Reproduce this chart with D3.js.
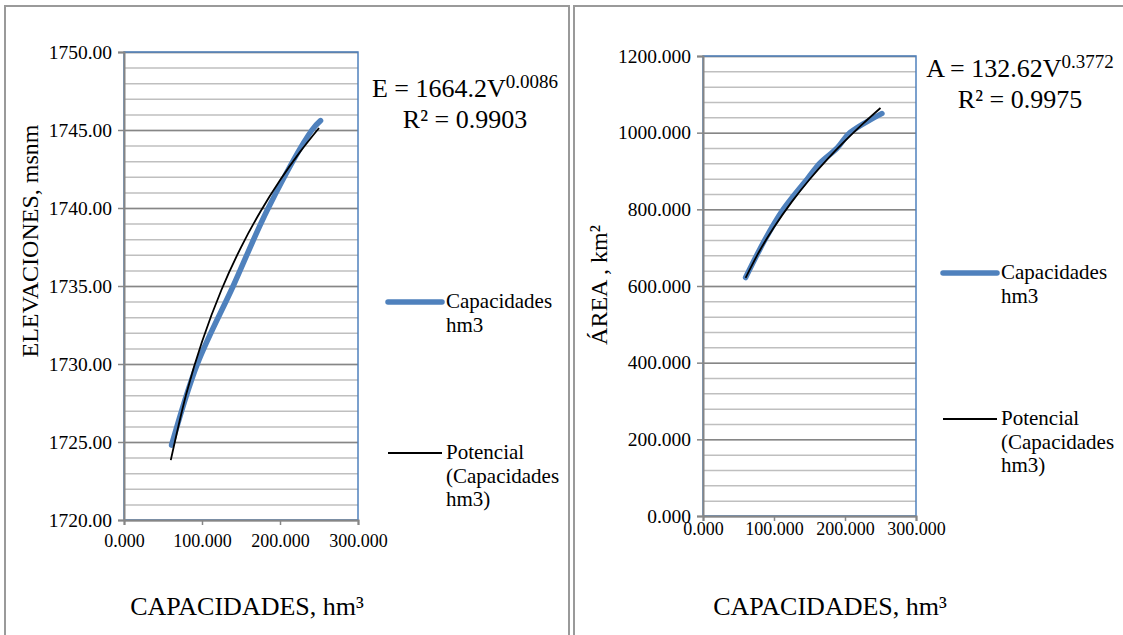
<!DOCTYPE html>
<html>
<head>
<meta charset="utf-8">
<script src="https://cdn.jsdelivr.net/npm/d3@7"></script>
<style>
  body { margin: 0; background: #fff; }
  text { font-family: "Liberation Serif", "Times New Roman", "DejaVu Serif", serif; fill: #000; }
</style>
</head>
<body>
<svg id="chart" width="1123" height="635"></svg>
<script>
// Curvas de capacidad: elevacion y area contra volumen almacenado

const elevCapacity = [61, 94, 140, 185, 241, 252];
const elevations = [1724.8, 1730, 1735, 1740, 1745, 1745.6];

const areaCapacity = [60, 87, 113, 148, 165, 189, 207, 252];
const areas = [622, 720, 800, 882, 921, 960, 1000, 1050];

// black power trend lines
const trendCapacity = [60, 80, 100, 125, 150, 175, 200, 225, 250];
const trendElevations = [1723.84, 1728.11, 1731.43, 1734.76, 1737.48, 1739.78, 1741.78, 1743.55, 1745.13];
const trendAreas = [621.3, 692.6, 753.4, 819.5, 877.9, 930.4, 978.5, 1022.9, 1064.4];

const xTicks = [0, 100, 200, 300];
const elevTicks = [1720, 1725, 1730, 1735, 1740, 1745, 1750];
const areaTicks = [0, 200, 400, 600, 800, 1000, 1200];

const seriesLabel = ["Capacidades", "hm3"];
const trendLabel = ["Potencial", "(Capacidades", "hm3)"];

const BLUE = "#4F81BD";
const AXIS = "#868686";
const MINOR = "#BFBFBF";
const SERIF = '"Liberation Serif", "Times New Roman", "DejaVu Serif", serif';

const svg = d3.select("#chart");

svg.append("rect").attr("width", 1123).attr("height", 635).attr("fill", "#fff");

// panel frames (bottom and right of the second one run off the page)
svg.append("rect")
  .attr("x", 5).attr("y", 6).attr("width", 564).attr("height", 700)
  .attr("fill", "none").attr("stroke", "#9a9a9a").attr("stroke-width", 2);
svg.append("rect")
  .attr("x", 574).attr("y", 6).attr("width", 700).attr("height", 700)
  .attr("fill", "none").attr("stroke", "#9a9a9a").attr("stroke-width", 2);

function drawPanel(opt) {

  const g = svg.append("g").style("font-family", SERIF);

  const x = d3.scaleLinear().domain([0, 300]).range([opt.left, opt.right]);
  const y = d3.scaleLinear().domain(opt.yDomain).range([opt.bottom, opt.top]);
  const w = opt.right - opt.left;

  // minor grid
  g.append("g")
    .attr("transform", `translate(${opt.left},0)`)
    .call(d3.axisLeft(y).tickValues(d3.range(opt.yDomain[0], opt.yDomain[1] + 0.001, opt.minorStep))
      .tickSize(-w).tickFormat(""))
    .call(s => s.select(".domain").remove())
    .call(s => s.selectAll("line").attr("stroke", MINOR).attr("stroke-width", 1.5));

  // major grid
  g.append("g")
    .attr("transform", `translate(${opt.left},0)`)
    .call(d3.axisLeft(y).tickValues(opt.yTicks).tickSize(-w).tickFormat(""))
    .call(s => s.select(".domain").remove())
    .call(s => s.selectAll("line").attr("stroke", AXIS).attr("stroke-width", 1.5));

  // plot border, top and right in blue
  g.append("rect")
    .attr("x", opt.left).attr("y", opt.top)
    .attr("width", w).attr("height", opt.bottom - opt.top)
    .attr("fill", "none").attr("stroke", BLUE).attr("stroke-width", 1.5);

  // y axis
  const yAxis = g.append("g")
    .attr("transform", `translate(${opt.left},0)`)
    .call(d3.axisLeft(y).tickValues(opt.yTicks).tickSize(6).tickPadding(opt.yPad)
      .tickFormat(d3.format(opt.yFormat)));
  yAxis.attr("font-family", null).attr("font-size", null);
  yAxis.select(".domain").attr("stroke", AXIS).attr("stroke-width", 2);
  yAxis.selectAll("line").attr("stroke", AXIS).attr("stroke-width", 1.5);
  yAxis.selectAll("text").style("font-family", SERIF).attr("font-size", 19.5).attr("fill", "#000");

  // x axis
  const xAxis = g.append("g")
    .attr("transform", `translate(0,${opt.bottom})`)
    .call(d3.axisBottom(x).tickValues(xTicks).tickSize(5).tickPadding(opt.xPad)
      .tickFormat(d3.format(".3f")));
  xAxis.attr("font-family", null).attr("font-size", null);
  xAxis.select(".domain").attr("stroke", AXIS).attr("stroke-width", 2);
  xAxis.selectAll("line").attr("stroke", AXIS).attr("stroke-width", 1.5);
  xAxis.selectAll("text").style("font-family", SERIF).attr("font-size", 18).attr("fill", "#000");

  // data line
  const line = d3.line()
    .x(d => x(d[0]))
    .y(d => y(d[1]))
    .curve(d3.curveCatmullRom.alpha(0.5));

  g.append("path")
    .datum(d3.zip(opt.xs, opt.ys))
    .attr("d", line)
    .attr("fill", "none")
    .attr("stroke", BLUE)
    .attr("stroke-width", 5.5)
    .attr("stroke-linecap", "round")
    .attr("stroke-linejoin", "round");

  g.append("path")
    .datum(d3.zip(trendCapacity, opt.trend))
    .attr("d", line)
    .attr("fill", "none")
    .attr("stroke", "#000")
    .attr("stroke-width", 1.8);

  // axis titles
  g.append("text")
    .attr("transform", `translate(${opt.yTitleX},${opt.yTitleY}) rotate(-90)`)
    .attr("text-anchor", "middle")
    .attr("font-size", 24)
    .text(opt.yTitle);

  g.append("text")
    .attr("x", opt.xTitleX).attr("y", 615)
    .attr("text-anchor", "middle")
    .attr("font-size", 26)
    .text("CAPACIDADES, hm³");

  // equation label
  const eq = g.append("text")
    .attr("x", opt.eqX).attr("y", opt.eqY)
    .attr("text-anchor", "middle")
    .attr("font-size", 26);
  eq.append("tspan").text(opt.eqMain);
  eq.append("tspan").attr("font-size", 19).attr("dy", -9).text(opt.eqExp);

  g.append("text")
    .attr("x", opt.eqX).attr("y", opt.eqY + 31)
    .attr("text-anchor", "middle")
    .attr("font-size", 26)
    .text(opt.r2);

  // legend
  const items = [
    {lines: seriesLabel, color: BLUE, width: 5.5, y: opt.legY[0]},
    {lines: trendLabel, color: "#000", width: 1.8, y: opt.legY[1]}
  ];

  items.forEach(it => {
    g.append("line")
      .attr("x1", opt.legX).attr("x2", opt.legX + 54)
      .attr("y1", it.y - 6).attr("y2", it.y - 6)
      .attr("stroke", it.color).attr("stroke-width", it.width)
      .attr("stroke-linecap", it.width > 3 ? "round" : "butt");

    const t = g.append("text")
      .attr("x", opt.legX + 58).attr("y", it.y)
      .attr("font-size", 21);
    it.lines.forEach((s, i) => {
      t.append("tspan").attr("x", opt.legX + 58).attr("dy", i === 0 ? 0 : 23.5).text(s);
    });
  });
}

drawPanel({
  left: 124, right: 358, top: 52, bottom: 520,
  yDomain: [1720, 1750], yTicks: elevTicks, minorStep: 1,
  yFormat: ".2f", yPad: 6, xPad: 9,
  xs: elevCapacity, ys: elevations, trend: trendElevations,
  yTitle: "ELEVACIONES, msnm", yTitleX: 38, yTitleY: 241,
  xTitleX: 247,
  eqMain: "E = 1664.2V", eqExp: "0.0086", r2: "R² = 0.9903", eqX: 465, eqY: 97,
  legX: 388, legY: [308, 459]
});

drawPanel({
  left: 703, right: 916, top: 56, bottom: 516,
  yDomain: [0, 1200], yTicks: areaTicks, minorStep: 40,
  yFormat: ".3f", yPad: 6, xPad: 1,
  xs: areaCapacity, ys: areas, trend: trendAreas,
  yTitle: "ÁREA , km²", yTitleX: 607, yTitleY: 285,
  xTitleX: 830,
  eqMain: "A = 132.62V", eqExp: "0.3772", r2: "R² = 0.9975", eqX: 1020, eqY: 77,
  legX: 943, legY: [279, 425]
});
</script>
</body>
</html>
